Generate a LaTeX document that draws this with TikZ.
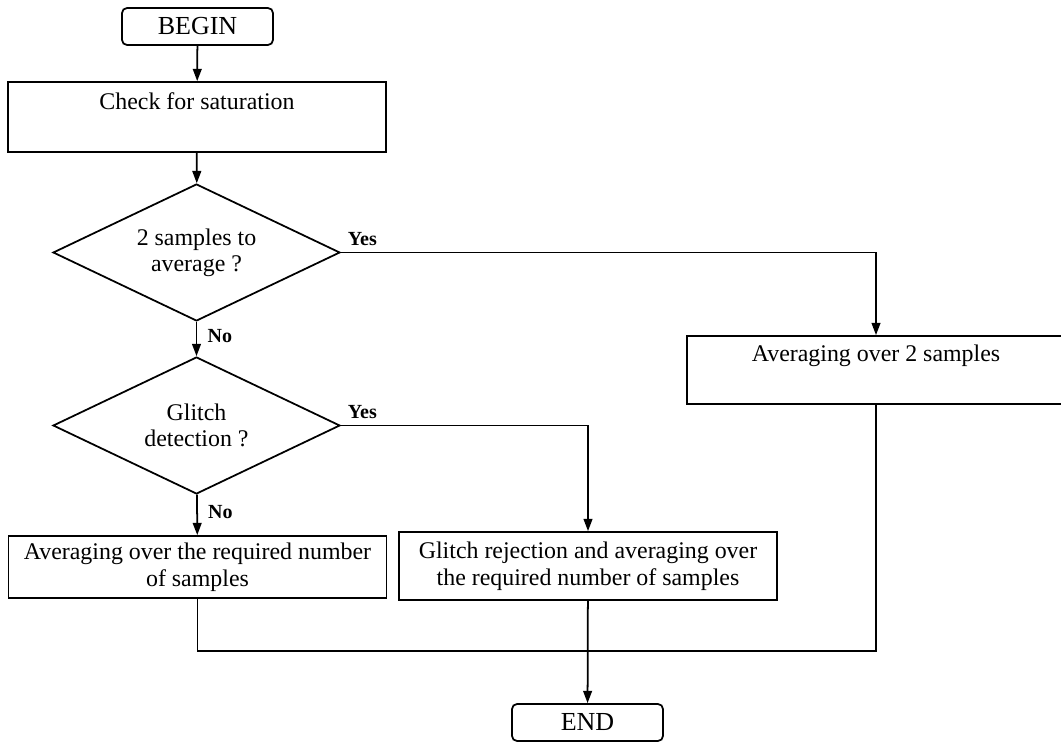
\documentclass[tikz,border=0pt]{standalone}
\usepackage{fontspec}
\setmainfont{Liberation Serif}
\usetikzlibrary{shapes.geometric,arrows.meta}

\begin{document}
\begin{tikzpicture}[x=0.02cm,y=-0.02cm,>={Triangle[length=7pt,width=5pt]},line width=1pt,
  terminal/.style={draw,rounded corners=0.1cm,minimum width=3.02cm,minimum height=0.74cm,inner sep=0pt,font=\fontsize{14.8}{17}\selectfont},
  process/.style={draw,minimum width=7.56cm,inner sep=0pt,align=center,font=\fontsize{13.6}{15.4}\selectfont},
  topbox/.style={process,inner ysep=0pt,text depth=0.84cm},
  decision/.style={draw,diamond,aspect=2.1,minimum width=5.74cm,minimum height=2.74cm,inner sep=0pt,align=center,font=\fontsize{13.6}{14.8}\selectfont},
  answer/.style={font=\fontsize{11.4}{13}\selectfont\bfseries,inner sep=3.5pt}]
\useasboundingbox (0,0) rectangle (1061,742);

\node[terminal] (begin) at (197.5,26.5) {BEGIN};
\node[topbox,text height=0.56cm] (check) at (197,117) {Check for saturation};
\node[decision] (q1) at (196.5,252.5) {2 samples to\\average ?};
\node[decision] (q2) at (196.5,425.5) {Glitch\\detection ?};
\node[topbox,text height=0.52cm] (avg2) at (876,370) {Averaging over 2 samples};
\node[process,minimum height=1.24cm] (avgN) at (197.5,567) {Averaging over the required number\\of samples};
\node[process,minimum height=1.36cm] (glitch) at (588,566) {Glitch rejection and averaging over\\the required number of samples};
\node[terminal] (end) at (587.5,722.5) {END};
\coordinate (merge) at (588,651);

\draw[->] (begin) -- (check);
\draw[->] (check) -- (q1);
\draw[->] (q1.east) -| node[answer,pos=0,anchor=south west] {Yes} (avg2);
\draw[->] (q1) -- node[answer,pos=0,anchor=north west,xshift=2.3pt] {No} (q2);
\draw[->] (q2.east) -| node[answer,pos=0,anchor=south west] {Yes} (glitch);
\draw[->] (q2) -- node[answer,pos=0,anchor=north west,xshift=2.3pt,yshift=-2.3pt] {No} (avgN);
\draw (avgN) |- (merge) -| (avg2);
\draw[->] (glitch) -- (end);
\end{tikzpicture}
\end{document}
